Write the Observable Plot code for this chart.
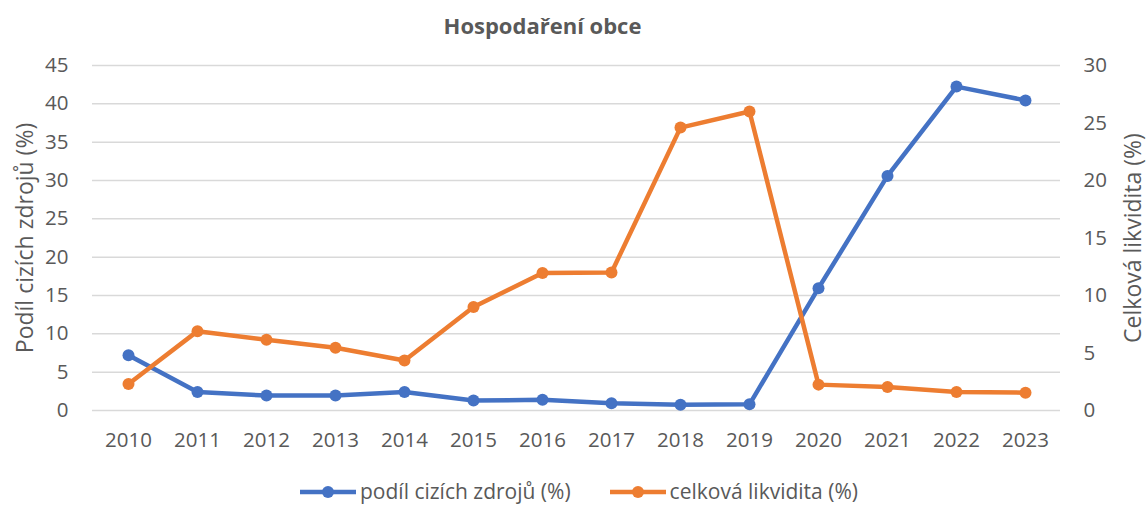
<!DOCTYPE html>
<html>
<head>
<meta charset="utf-8">
<script src="https://cdn.jsdelivr.net/npm/d3@7"></script>
<script src="https://cdn.jsdelivr.net/npm/@observablehq/plot@0.6"></script>
<style>
  html, body { margin: 0; padding: 0; background: #fff; }
  body { width: 1147px; height: 506px; overflow: hidden; font-family: "Open Sans", sans-serif; color: #595959; }
  #title { height: 45px; line-height: 50px; text-align: center; font-weight: bold; font-size: 22px; color: #595959; padding-right: 62px; box-sizing: border-box; }
  #legend { display: flex; justify-content: center; align-items: center; gap: 38px; height: 36px; padding-top: 8px; box-sizing: border-box; font-size: 21px; line-height: 1.2; color: #595959; margin-left: 10px; }
  .item { display: flex; align-items: center; gap: 3px; }
  #chart g[aria-label="y-axis label"] text { font-size: 23px !important; }
</style>
</head>
<body>
<div id="title">Hospodaření obce</div>
<div id="chart"></div>
<div id="legend"></div>
<script>
const years = ["2010","2011","2012","2013","2014","2015","2016","2017","2018","2019","2020","2021","2022","2023"];
const podilCizichZdroju = [7.2, 2.4, 1.95, 1.95, 2.4, 1.3, 1.4, 0.95, 0.75, 0.8, 15.95, 30.6, 42.25, 40.45];
const celkovaLikvidita = [2.3, 6.9, 6.15, 5.45, 4.35, 9.0, 11.95, 12.0, 24.6, 26.0, 2.25, 2.05, 1.6, 1.55];
const leftTicks = [0,5,10,15,20,25,30,35,40,45];
const rightTicks = [0,5,10,15,20,25,30];
const seriesNames = ["podíl cizích zdrojů (%)", "celková likvidita (%)"];
const colors = ["#4472C4", "#ED7D31"];
const ratio = 45 / 30;

const blue = years.map((y, i) => ({year: y, value: podilCizichZdroju[i]}));
const orange = years.map((y, i) => ({year: y, value: celkovaLikvidita[i] * ratio}));

const plot = Plot.plot({
  width: 1147,
  height: 425,
  marginTop: 20,
  marginBottom: 60,
  marginLeft: 92,
  marginRight: 87,
  style: {fontFamily: "Open Sans, sans-serif", fontSize: "20.5px", color: "#595959", background: "#fff"},
  x: {type: "point", domain: years, padding: 0.5},
  y: {domain: [0, 45]},
  marks: [
    Plot.gridY(leftTicks, {stroke: "#d9d9d9", strokeOpacity: 1, strokeWidth: 1.5}),
    Plot.axisX({tickSize: 0, tickPadding: 22, label: null, fontSize: 20.5}),
    Plot.axisY(leftTicks, {anchor: "left", tickSize: 0, tickPadding: 24, label: "Podíl cizích zdrojů (%)", labelAnchor: "center", labelArrow: "none", labelOffset: 76, fontSize: 20.5}),
    Plot.axisY(rightTicks.map(t => t * ratio), {anchor: "right", tickSize: 0, tickPadding: 23, tickFormat: d => String(Math.round(d / ratio)), label: "Celková likvidita (%)", labelAnchor: "center", labelArrow: "none", labelOffset: 80, fontSize: 20.5}),
    Plot.line(blue, {x: "year", y: "value", stroke: colors[0], strokeWidth: 4.5}),
    Plot.dot(blue, {x: "year", y: "value", fill: colors[0], r: 6}),
    Plot.line(orange, {x: "year", y: "value", stroke: colors[1], strokeWidth: 4.5}),
    Plot.dot(orange, {x: "year", y: "value", fill: colors[1], r: 6})
  ]
});
document.getElementById("chart").appendChild(plot);

const legend = document.getElementById("legend");
seriesNames.forEach((name, i) => {
  const item = document.createElement("div");
  item.className = "item";
  item.innerHTML = `<svg width="58" height="14"><line x1="1" y1="7" x2="57" y2="7" stroke="${colors[i]}" stroke-width="4.5"/><circle cx="29" cy="7" r="6" fill="${colors[i]}"/></svg><span>${name}</span>`;
  legend.appendChild(item);
});
</script>
</body>
</html>
